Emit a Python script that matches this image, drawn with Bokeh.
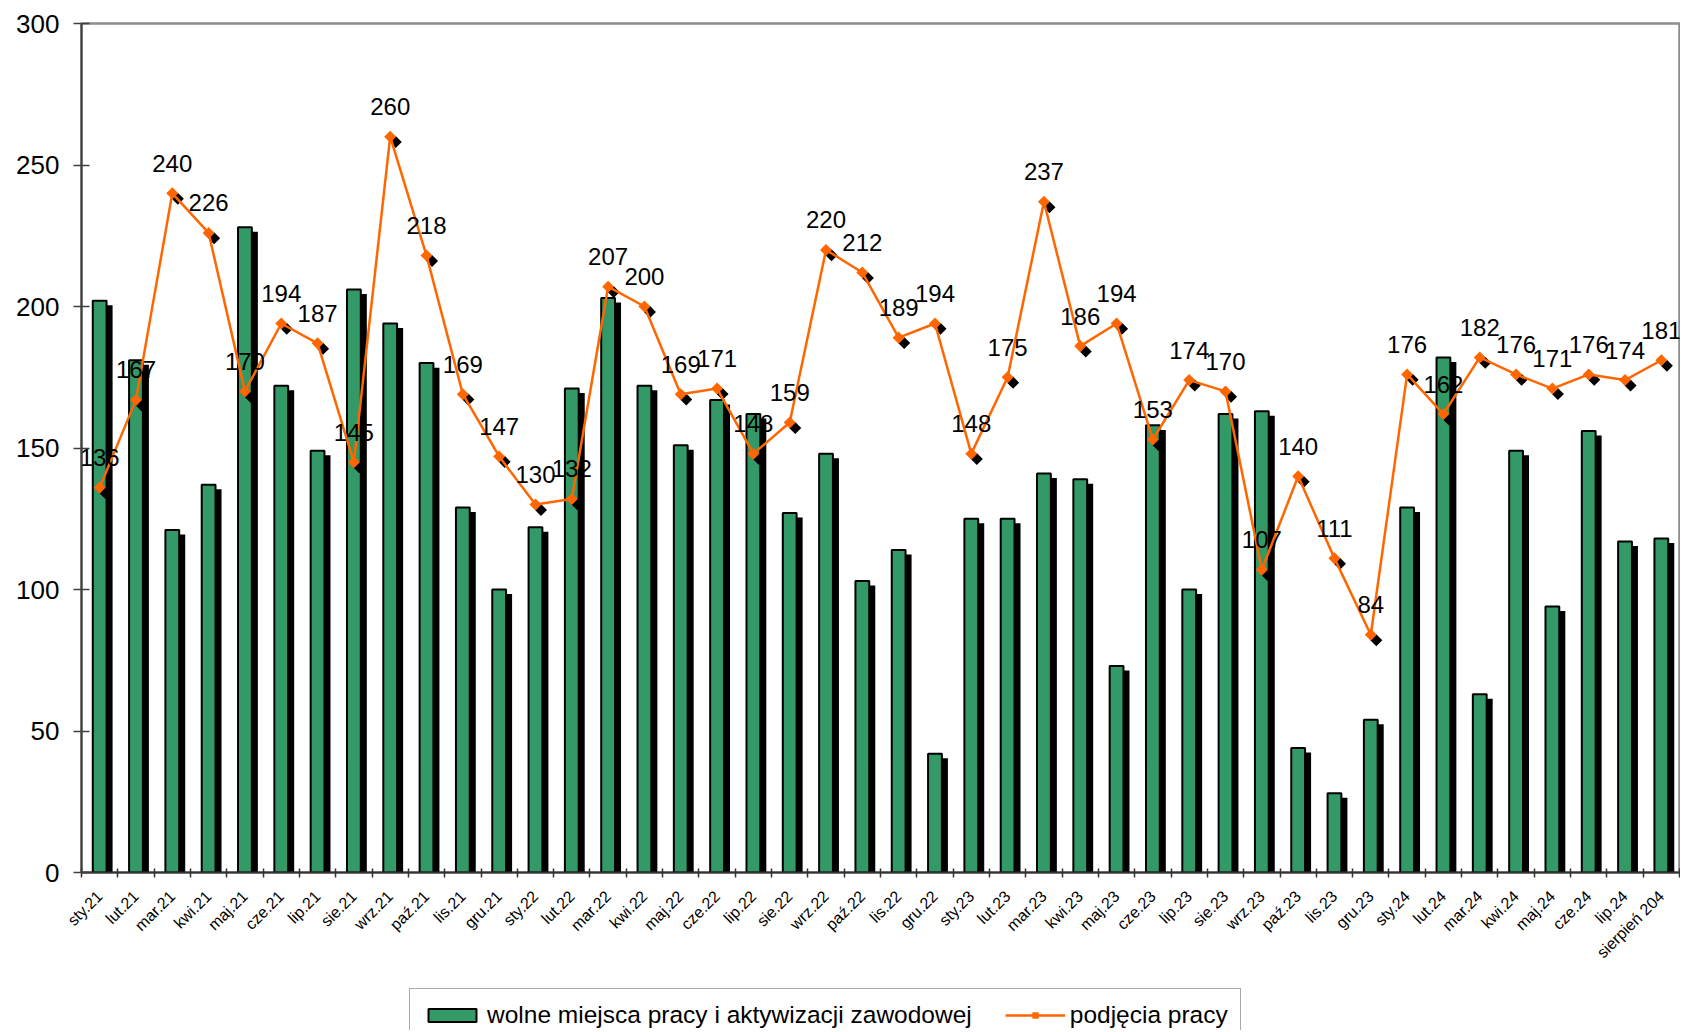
from math import pi
from bokeh.plotting import figure
from bokeh.layouts import column
from bokeh.models import (Range1d, LinearAxis, FixedTicker, CustomLabelingPolicy,
                          ColumnDataSource, Legend, LegendItem)
from bokeh.transform import dodge
from bokeh.core.properties import value
from bokeh.embed import file_html
from bokeh.resources import INLINE

months = ["sty.21", "lut.21", "mar.21", "kwi.21", "maj.21", "cze.21", "lip.21", "sie.21",
          "wrz.21", "paź.21", "lis.21", "gru.21",
          "sty.22", "lut.22", "mar.22", "kwi.22", "maj.22", "cze.22", "lip.22", "sie.22",
          "wrz.22", "paź.22", "lis.22", "gru.22",
          "sty.23", "lut.23", "mar.23", "kwi.23", "maj.23", "cze.23", "lip.23", "sie.23",
          "wrz.23", "paź.23", "lis.23", "gru.23",
          "sty.24", "lut.24", "mar.24", "kwi.24", "maj.24", "cze.24", "lip.24", "sierpień 204"]

vacancies = [202, 181, 121, 137, 228, 172, 149, 206, 194, 180, 129, 100,
             122, 171, 203, 172, 151, 167, 162, 127, 148, 103, 114, 42,
             125, 125, 141, 139, 73, 158, 100, 162, 163, 44, 28, 54,
             129, 182, 63, 149, 94, 156, 117, 118]

hires = [136, 167, 240, 226, 170, 194, 187, 145, 260, 218, 169, 147,
         130, 132, 207, 200, 169, 171, 148, 159, 220, 212, 189, 194,
         148, 175, 237, 186, 194, 153, 174, 170, 107, 140, 111, 84,
         176, 162, 182, 176, 171, 176, 174, 181]

y_ticks = [0, 50, 100, 150, 200, 250, 300]

series_bar = "wolne miejsca pracy i aktywizacji zawodowej"
series_line = "podjęcia pracy"

FONT = "Liberation Sans"
GREEN = "#339966"
ORANGE = "#FF6600"

idx = list(range(len(months)))
src = ColumnDataSource(dict(i=idx, v=vacancies, h=hires, lbl=[str(x) for x in hires]))

p = figure(width=1680, height=988,
           x_range=Range1d(-0.5, len(months) - 0.5), y_range=Range1d(y_ticks[0], y_ticks[-1]),
           x_axis_type=None, output_backend="svg", toolbar_location=None,
           min_border_left=81, min_border_top=23, min_border_right=1, min_border_bottom=116)
p.grid.visible = False
p.outline_line_color = "#8c8c8c"
p.outline_line_width = 2.5
p.background_fill_color = "white"
p.border_fill_color = "white"

# y axis
ya = p.yaxis[0]
ya.ticker = FixedTicker(ticks=y_ticks)
ya.minor_tick_line_color = None
ya.major_tick_in = 8
ya.major_tick_out = 8
ya.axis_line_color = "#404040"
ya.axis_line_width = 2
ya.major_tick_line_color = "#404040"
ya.major_tick_line_width = 1.5
ya.major_label_text_font = FONT
ya.major_label_text_font_size = "26px"
ya.major_label_text_color = "black"
ya.major_label_standoff = 14

# x axis: ticks between categories (no labels)
no_labels = CustomLabelingPolicy(code="for (let k = 0; k < indices.size; k++) { indices.unset(k) } return indices")
tick_axis = LinearAxis(ticker=FixedTicker(ticks=[i - 0.5 for i in range(len(months) + 1)]),
                       major_tick_in=4, major_tick_out=5,
                       minor_tick_line_color=None,
                       major_label_policy=no_labels,
                       major_label_text_font_size="0px", major_label_standoff=0,
                       axis_line_color="#333333", axis_line_width=2,
                       major_tick_line_color="#333333", major_tick_line_width=1.5)
p.add_layout(tick_axis, "below")

label_axis = LinearAxis(ticker=FixedTicker(ticks=idx),
                        major_label_overrides={i: m for i, m in zip(idx, months)},
                        axis_line_color=None,
                        major_tick_line_color=None, minor_tick_line_color=None,
                        major_label_orientation=pi / 4,
                        major_label_text_font=FONT,
                        major_label_text_font_size="16px",
                        major_label_text_color="black",
                        major_label_standoff=10)
p.add_layout(label_axis, "below")

# bars with shadow
p.vbar(x=dodge("i", 0.166), top=dodge("v", -1.6), width=0.38,
       bottom=0, source=src, fill_color="black", line_color=None)
p.vbar(x="i", top="v", width=0.38, bottom=0, source=src,
       fill_color=GREEN, line_color="black", line_width=2)

# line with shadowed markers
p.scatter(x=dodge("i", 0.152), y=dodge("h", -1.9), source=src,
          marker="square", angle=pi / 4, size=8.5,
          fill_color="black", line_color=None)
p.line(x="i", y="h", source=src, line_color=ORANGE, line_width=2.5)
p.scatter(x="i", y="h", source=src, marker="square", angle=pi / 4,
          size=8.5, fill_color=ORANGE, line_color=None)

# data labels
p.text(x="i", y="h", text="lbl", source=src,
       text_align="center", text_baseline="alphabetic", y_offset=-30,
       text_font=value(FONT), text_font_size="24px", text_color="black")

# legend strip below the chart; its renderers share the data but lie outside its view
lf = figure(width=1680, height=42,
            x_range=Range1d(-0.5, len(months) - 0.5), y_range=Range1d(1000, 1001),
            x_axis_type=None, y_axis_type=None, output_backend="svg", toolbar_location=None,
            min_border=0, outline_line_color=None)
lf.grid.visible = False
lbars = lf.rect(x="i", y="v", width=0.38, height=0, source=src,
                fill_color=GREEN, line_color="black", line_width=2)
lline = lf.line(x="i", y="h", source=src, line_color=ORANGE, line_width=2.5)
lpts = lf.scatter(x="i", y="h", source=src, marker="square", angle=pi / 4,
                  size=8.5, fill_color=ORANGE, line_color=None)
legend = Legend(items=[LegendItem(label=series_bar, renderers=[lbars]),
                       LegendItem(label=series_line, renderers=[lline, lpts])],
                orientation="horizontal", location=(328, -12),
                label_text_font=FONT, label_text_font_size="24.5px", label_text_color="black",
                glyph_width=60, glyph_height=16, label_standoff=5, spacing=33,
                padding=12, margin=0,
                border_line_color="#555555", border_line_width=1.5,
                background_fill_color="white", background_fill_alpha=1)
lf.add_layout(legend)

layout = column(p, lf, spacing=0)
open("out.html", "w").write(file_html(layout, INLINE))
